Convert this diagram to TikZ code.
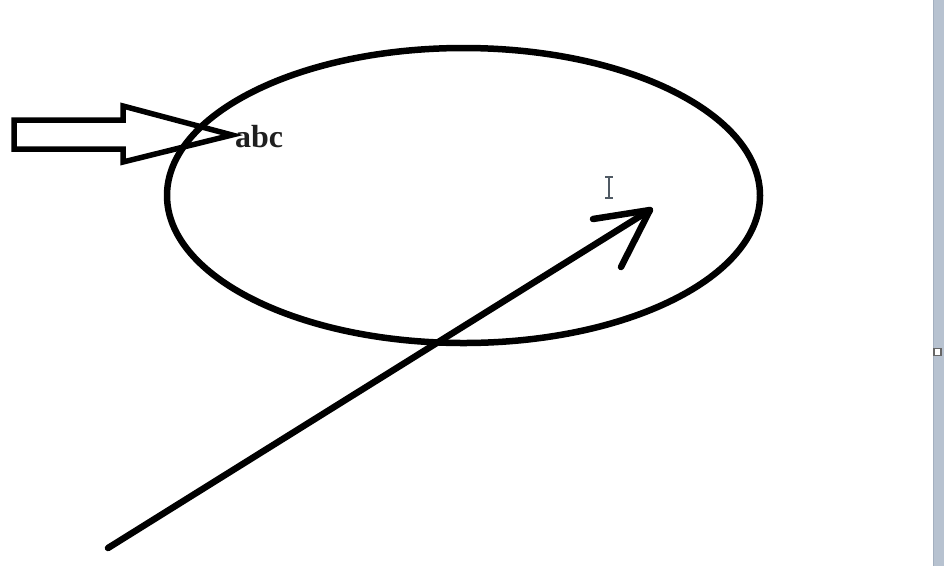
\documentclass[tikz,border=0pt]{standalone}
\usepackage{fontspec}
\setmainfont{Liberation Serif}
\usetikzlibrary{shapes.geometric}
\definecolor{barcol}{HTML}{B7C2D0}
\definecolor{baredge}{HTML}{A3AFBF}
\definecolor{cursorcol}{HTML}{505A64}
\tikzset{
  stroke/.style={line width=6.5pt, black, line cap=round, line join=round},
  blockarrow/.style={line width=5.5pt, black, line join=miter},
  label/.style={font=\fontsize{32}{38}\selectfont\bfseries, inner sep=0pt, text=black!88},
}
\begin{document}
\begin{tikzpicture}[x=1pt,y=-1pt]
\useasboundingbox (0,0) rectangle (944,566);
\fill[white] (0,0) rectangle (944,566);
% right window edge
\fill[barcol] (933,0) rectangle (944,566);
\draw[baredge, line width=1.5pt] (933.5,0) -- (933.5,566);
\node[draw=black!60, fill=white, line width=1.5pt, minimum size=7pt, inner sep=0pt] (handle) at (937.5,352) {};
% ellipse
\node[ellipse, draw, line width=6.5pt, minimum width=593pt, minimum height=295pt, inner sep=0pt] (ell) at (463.5,195.5) {};
% label
\node[label, anchor=base west] (abc) at (235,147) {abc};
% block arrow
\draw[blockarrow] (14,120) -- (123,120) -- (123,106) -- (232,135) -- (123,162) -- (123,149) -- (14,149) -- cycle;
% long arrow
\coordinate (start) at (108,548);
\coordinate (tip) at (650,210);
\coordinate (barbA) at (593,219);
\coordinate (barbB) at (621,267);
\draw[stroke] (start) -- (tip);
\draw[stroke] (barbA) -- (tip) -- (barbB);
% text cursor
\draw[cursorcol, line width=1.3pt] (609,177) -- (609,198) (605,177) -- (613,177) (605,198) -- (613,198);
\end{tikzpicture}
\end{document}
